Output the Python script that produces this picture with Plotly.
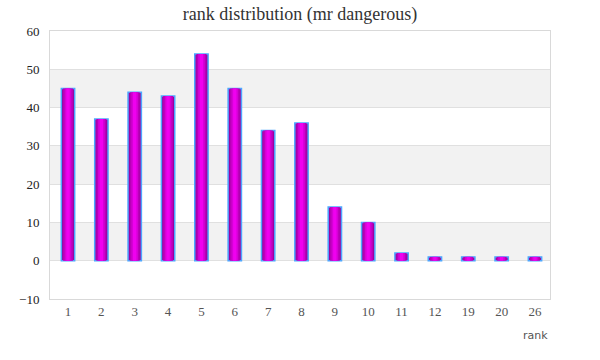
import plotly.graph_objects as go

ranks = ["1", "2", "3", "4", "5", "6", "7", "8", "9", "10", "11", "12", "19", "20", "26"]
counts = [45, 37, 44, 43, 54, 45, 34, 36, 14, 10, 2, 1, 1, 1, 1]
y_ticks = [-10, 0, 10, 20, 30, 40, 50, 60]

fig = go.Figure()

# gradient-like bars: overlay of narrower, brighter bars
layers = [
    (0.40, "#990099", dict(color="#4da6ff", width=1.5)),
    (0.30, "#b800b8", dict(width=0)),
    (0.20, "#d600d6", dict(width=0)),
    (0.10, "#f000f0", dict(width=0)),
]
for w, c, ln in layers:
    fig.add_trace(go.Bar(
        x=ranks, y=counts, width=w,
        marker=dict(color=c, line=ln),
        hoverinfo="x+y", showlegend=False,
    ))

# alternating bands
for lo in [0, 20, 40]:
    fig.add_shape(type="rect", xref="paper", x0=0, x1=1, yref="y", y0=lo, y1=lo + 10,
                  fillcolor="#f2f2f2", line=dict(width=0), layer="below")

fig.update_layout(
    width=600, height=360,
    margin=dict(l=50, r=50, t=31, b=61),
    paper_bgcolor="white", plot_bgcolor="white",
    barmode="overlay",
    title=dict(text="rank distribution (mr dangerous)", x=0.5, xanchor="center",
               y=0.962, yanchor="middle",
               font=dict(family="Liberation Serif", size=18, color="#333333")),
    xaxis=dict(type="category", range=[-0.54, 14.45], showgrid=False,
               showline=True, linecolor="#d9d9d9", linewidth=1, mirror=True,
               ticks="", tickfont=dict(family="Liberation Serif", size=13, color="#555555"),
               zeroline=False, automargin=False),
    yaxis=dict(range=[-10, 60], tickvals=y_ticks, showgrid=True, gridcolor="#e0e0e0",
               showline=True, linecolor="#d9d9d9", linewidth=1, mirror=True,
               zeroline=True, zerolinecolor="#e0e0e0", zerolinewidth=1,
               ticks="", ticklabelstandoff=7, automargin=False,
               tickfont=dict(family="Liberation Serif", size=13, color="#222222")),
    annotations=[dict(text="rank", xref="paper", yref="paper", x=0.97, y=-0.138,
                      xanchor="center", yanchor="middle", showarrow=False,
                      font=dict(family="DejaVu Sans", size=11, color="#555555"))],
)

fig.write_html("out.html", config={"displayModeBar": False},
               post_script="document.body.style.margin='0';document.body.style.padding='0';")
